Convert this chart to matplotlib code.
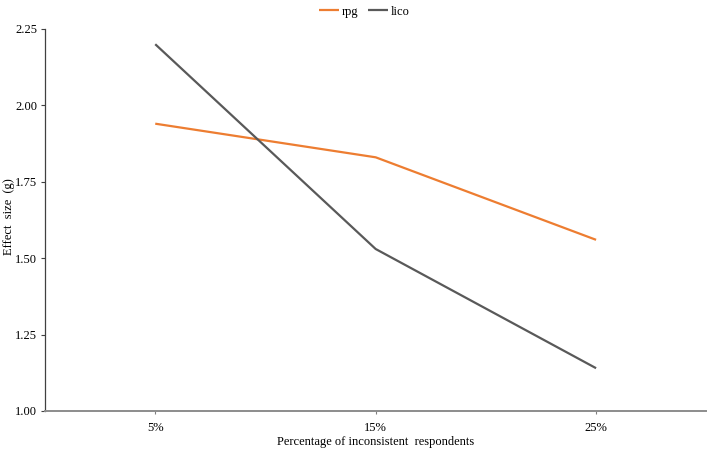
import matplotlib
matplotlib.use("Agg")
import matplotlib.pyplot as plt

categorias = ["5%", "15%", "25%"]
rpg = [1.94, 1.83, 1.56]
lico = [2.20, 1.53, 1.14]
y_ticks = [1.00, 1.25, 1.50, 1.75, 2.00, 2.25]

plt.rcParams['font.family'] = ['Liberation Serif', 'DejaVu Serif']

fig = plt.figure(figsize=(7.08, 4.5), dpi=100)
ax = fig.add_axes([0.0636, 0.0867, 0.934, 0.849])

x = range(len(categorias))
ax.plot(x, rpg, color='#ED7D31', lw=1.6, label='rpg', solid_capstyle='butt')
ax.plot(x, lico, color='#595959', lw=1.6, label='lico', solid_capstyle='butt')

ax.set_xlim(-0.5, 2.5)
ax.set_ylim(1.0, 2.25)
ax.set_xticks(list(x))
ax.set_xticklabels(categorias, fontsize=9)
ax.set_yticks(y_ticks)
ax.set_yticklabels([f"{v:.2f}" for v in y_ticks], fontsize=9)
ax.tick_params(axis='x', length=2, width=0.8, color='#7f7f7f', pad=6)
ax.tick_params(axis='y', length=3, width=0.8, color='#404040', pad=2.5)

for s in ['top', 'right']:
    ax.spines[s].set_visible(False)
ax.spines['left'].set_color('#404040')
ax.spines['left'].set_linewidth(0.9)
ax.spines['bottom'].set_color('#8c8c8c')
ax.spines['bottom'].set_linewidth(1.4)

ax.set_xlabel("Percentage of inconsistent  respondents", fontsize=9)
ax.xaxis.set_label_coords(0.5, -0.065)
ax.set_ylabel("Effect  size  (g)", fontsize=9)
ax.yaxis.set_label_coords(-0.045, 0.51)

fig.legend(loc='upper center', bbox_to_anchor=(0.515, 1.012), ncol=2, frameon=False,
           fontsize=9, handlelength=1.6, handletextpad=0.2, columnspacing=0.8)

fig.savefig("out.png", dpi=100)
